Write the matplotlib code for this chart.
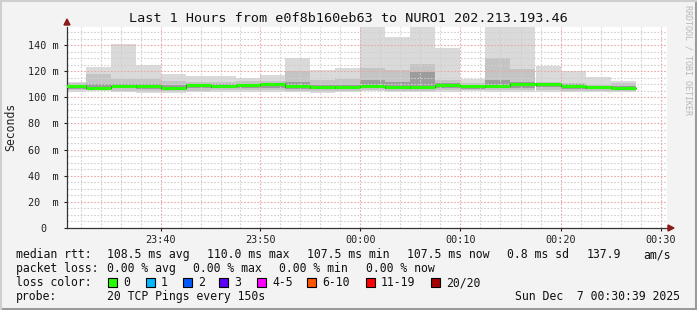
import matplotlib
matplotlib.use("Agg")
import matplotlib.pyplot as plt
from matplotlib.patches import Rectangle, Polygon
from matplotlib.lines import Line2D

# 150 s bins, start time of each bin
bin_start = ['23:30:00', '23:32:30', '23:35:00', '23:37:30', '23:40:00', '23:42:30',
             '23:45:00', '23:47:30', '23:50:00', '23:52:30', '23:55:00', '23:57:30',
             '00:00:00', '00:02:30', '00:05:00', '00:07:30', '00:10:00', '00:12:30',
             '00:15:00', '00:17:30', '00:20:00', '00:22:30', '00:25:00']

# median rtt (ms)
median = [108.6, 107.5, 108.6, 108.6, 107.5, 109.4, 108.6, 109.1, 110.0, 108.8, 107.8, 107.6,
          108.6, 107.8, 107.8, 109.4, 108.4, 108.8, 110.0, 110.0, 108.6, 107.6, 107.5]

# smoke: outer band (min .. max)
smoke_lo0 = [104.3, 104.6, 104.2, 103.6, 103.6, 103.8, 104.0, 104.2, 104.4, 103.8, 103.6, 104.0,
             104.6, 104.2, 104.0, 104.4, 104.8, 104.4, 104.2, 104.4, 104.0, 104.0, 104.2]
smoke_hi0 = [111.5, 123.4, 140.8, 124.9, 117.8, 116.3, 116.3, 114.8, 117.1, 130.1, 120.9, 122.2,
             160.0, 146.4, 160.0, 137.9, 114.2, 160.0, 160.0, 124.2, 119.9, 115.5, 112.7]
# middle band
smoke_lo1 = [105.5, 105.3, 105.2, 105.0, 104.8, 105.2, 105.4, 105.5, 105.6, 105.0, 104.8, 105.0,
             105.5, 105.2, 105.0, 105.5, 105.5, 105.6, 105.4, 105.6, 105.2, 105.0, 105.2]
smoke_hi1 = [111.0, 117.8, 114.0, 113.8, 112.7, 112.0, 112.0, 112.5, 112.5, 120.4, 113.5, 114.0,
             122.6, 120.9, 125.2, 113.2, 110.7, 129.8, 121.7, 112.0, 110.7, 109.4, 110.7]
# inner band
smoke_lo2 = [106.5, 106.0, 106.8, 106.5, 105.8, 107.0, 106.8, 107.2, 107.5, 106.5, 106.0, 106.0,
             106.8, 106.0, 106.0, 107.0, 106.0, 107.0, 107.5, 107.8, 106.5, 106.0, 106.0]
smoke_hi2 = [109.8, 110.5, 110.0, 110.0, 109.5, 110.5, 110.0, 110.3, 111.2, 112.0, 109.8, 109.5,
             113.2, 112.0, 119.0, 111.0, 109.5, 113.0, 112.0, 111.0, 110.0, 109.0, 109.0]

y_ticks = [0, 20, 40, 60, 80, 100, 120, 140]
y_tick_labels = ['0', '20  m', '40  m', '60  m', '80  m', '100 m', '120 m', '140 m']
x_ticks = ['23:40', '23:50', '00:00', '00:10', '00:20', '00:30']

loss_names = ['0', '1', '2', '3', '4-5', '6-10', '11-19', '20/20']
loss_colors = ['#26ff00', '#00b8ff', '#0059ff', '#5e00ff', '#ff00ff', '#ff5500', '#ff0000', '#a10000']


def to_min(s):
    h, m, sec = [int(v) for v in s.split(':')]
    if h < 12:
        h += 24
    return (h - 23) * 60 + m + sec / 60.0


W, H = 697, 310
MONO = 'DejaVu Sans Mono'
plt.rcParams['font.family'] = MONO

fig = plt.figure(figsize=(W / 100, H / 100), dpi=100, facecolor='#f3f3f3')
ax = fig.add_axes([67 / W, 82 / H, 600 / W, 201 / H])
ax.set_facecolor('white')

t_start = to_min('23:30:39')
t_end = to_min('00:30:39')
ax.set_xlim(t_start, t_end)
ax.set_ylim(0, 153.8)

lefts = [to_min(s) for s in bin_start]
bw = 2.5
bands = [(smoke_lo0, smoke_hi0, '#dadada'),
         (smoke_lo1, smoke_hi1, '#c4c4c4'),
         (smoke_lo2, smoke_hi2, '#9c9c9c')]
for lo, hi, col in bands:
    ax.bar(lefts, [h - l for l, h in zip(lo, hi)], bottom=lo, width=bw, align='edge',
           color=col, linewidth=0, zorder=1)
# dark core just under the median
ax.bar(lefts, [1.3] * len(median), bottom=[m - 1.3 for m in median], width=bw, align='edge',
       color='#555555', linewidth=0, zorder=1.2)

# median line, coloured by loss (all 0 here)
xs, ys = [], []
for l, m in zip(lefts, median):
    xs += [l, l + bw]
    ys += [m, m]
ax.plot(xs, ys, color='#1a1a1a', lw=0.6, zorder=3)
ax.hlines(median, lefts, [l + bw for l in lefts], color=loss_colors[0], lw=2.2, zorder=3.5)

# grid
for v in range(0, 154, 5):
    if v % 20:
        ax.axhline(v, color='#d0d0d0', lw=0.8, ls=(0, (1.5, 1.5)), zorder=2)
for v in range(32, 91, 2):
    if v % 10:
        ax.axvline(v, color='#d0d0d0', lw=0.8, ls=(0, (1.5, 1.5)), zorder=2)
for v in y_ticks[1:]:
    ax.axhline(v, color='#e8a8a8', lw=0.8, ls=(0, (1.5, 1.5)), zorder=2.1)
for v in range(40, 91, 10):
    ax.axvline(v, color='#e8a8a8', lw=0.8, ls=(0, (1.5, 1.5)), zorder=2.1)

ax.set_yticks(y_ticks)
ax.set_yticklabels(y_tick_labels, ha='center')
ax.set_xticks(range(40, 91, 10))
ax.set_xticklabels(x_ticks)
ax.tick_params(axis='y', length=2, width=0.8, pad=15, labelsize=7.3, colors='#222222')
ax.tick_params(axis='x', length=2, width=0.8, pad=3, labelsize=7.3, colors='#222222')
for s in ['top', 'right']:
    ax.spines[s].set_visible(False)
for s in ['left', 'bottom']:
    ax.spines[s].set_color('#333333')
    ax.spines[s].set_linewidth(0.9)


def fx(x):
    return x / W


def fy(y):
    return 1 - y / H


fig.text(fx(11), fy(127), 'Seconds', rotation=90, ha='center', va='center',
         fontsize=8.3, color='#222222')

# axis arrows
fig.add_artist(Polygon([[fx(64), fy(25)], [fx(70), fy(25)], [fx(67), fy(19)]],
                       closed=True, transform=fig.transFigure, color='#8b1a1a'))
fig.add_artist(Polygon([[fx(668), fy(225)], [fx(668), fy(231)], [fx(674), fy(228)]],
                       closed=True, transform=fig.transFigure, color='#8b1a1a'))

fig.text(fx(348), fy(19), 'Last 1 Hours from e0f8b160eb63 to NURO1 202.213.193.46',
         ha='center', va='center', fontsize=9.7, color='#111111')
fig.text(fx(688), fy(5), 'RRDTOOL / TOBI OETIKER', rotation=270, ha='center', va='top',
         fontsize=6, color='#b8b8b8')

fs = 8.3
c = '#111111'
row1 = [(16, 'median rtt:'), (107, '108.5 ms avg'), (207, '110.0 ms max'), (307, '107.5 ms min'),
        (407, '107.5 ms now'), (507, '0.8 ms sd'), (587, '137.9'), (643, 'am/s')]
row2 = [(16, 'packet loss:'), (107, '0.00 % avg'), (193, '0.00 % max'), (279, '0.00 % min'),
        (366, '0.00 % now')]
for x, s in row1:
    fig.text(fx(x), fy(254.5), s, ha='left', va='center', fontsize=fs, color=c)
for x, s in row2:
    fig.text(fx(x), fy(268.5), s, ha='left', va='center', fontsize=fs, color=c)

fig.text(fx(16), fy(282.5), 'loss color:', ha='left', va='center', fontsize=fs, color=c)
box_x = [108, 146, 183, 219, 257, 307, 366, 431]
for bx, name, col in zip(box_x, loss_names, loss_colors):
    fig.add_artist(Rectangle((fx(bx), fy(287)), 9 / W, 9 / H, transform=fig.transFigure,
                             facecolor=col, edgecolor='black', lw=0.8))
    fig.text(fx(bx + 15), fy(282.5), name, ha='left', va='center', fontsize=fs, color=c)

fig.text(fx(16), fy(296.5), 'probe:', ha='left', va='center', fontsize=fs, color=c)
fig.text(fx(107), fy(296.5), '20 TCP Pings every 150s', ha='left', va='center', fontsize=fs, color=c)
fig.text(fx(680), fy(296.5), 'Sun Dec  7 00:30:39 2025', ha='right', va='center', fontsize=fs, color=c)

# image frame
fig.add_artist(Line2D([0, 1], [fy(308.5), fy(308.5)], transform=fig.transFigure, color='#9a9a9a', lw=2.2))
fig.add_artist(Line2D([fx(695.5), fx(695.5)], [0, 1], transform=fig.transFigure, color='#9a9a9a', lw=2.2))
fig.add_artist(Line2D([0, 1], [fy(0.5), fy(0.5)], transform=fig.transFigure, color='#cfcfcf', lw=1.5))
fig.add_artist(Line2D([fx(0.5), fx(0.5)], [0, 1], transform=fig.transFigure, color='#cfcfcf', lw=1.5))

fig.savefig('out.png', dpi=100, facecolor=fig.get_facecolor())
